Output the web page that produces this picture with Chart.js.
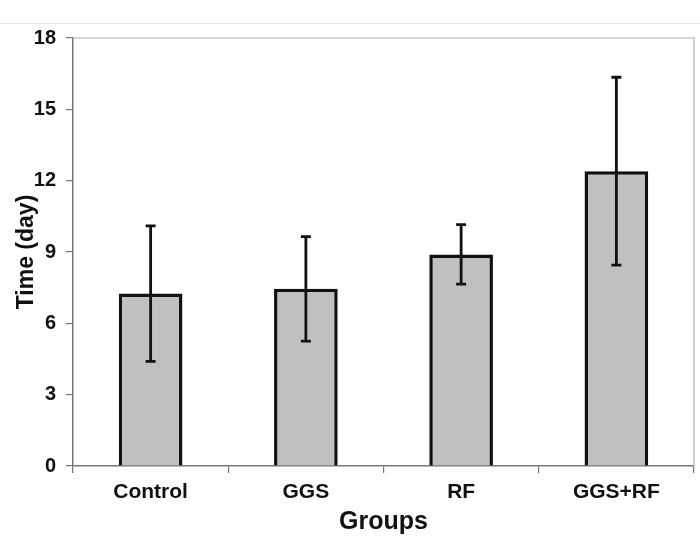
<!DOCTYPE html>
<html>
<head>
<meta charset="utf-8">
<script src="https://cdn.jsdelivr.net/npm/chart.js@4.4.1/dist/chart.umd.min.js"></script>
<style>
    html, body { margin: 0; padding: 0; background: #fff; }
    #wrap { width: 700px; height: 552px; position: relative; }
</style>
</head>
<body>
<div id="wrap"><canvas id="timeChart"></canvas></div>
<script>
const groups = ["Control", "GGS", "RF", "GGS+RF"];
const meanDays = [7.25, 7.45, 8.9, 12.4];
const sdDays = [2.85, 2.2, 1.25, 3.95];
const yTicks = [0, 3, 6, 9, 12, 15, 18];

// light frame on top/right of the plot area, plus the faint page rule above
const frame = {
    id: "frame",
    beforeDatasetsDraw(chart) {
        const { ctx, chartArea: a } = chart;
        ctx.save();
        ctx.strokeStyle = "#e4e4e4";
        ctx.lineWidth = 1;
        ctx.beginPath();
        ctx.moveTo(0, 23.5);
        ctx.lineTo(chart.width, 23.5);
        ctx.stroke();
        ctx.strokeStyle = "#b0b0b0";
        ctx.lineWidth = 1.2;
        ctx.beginPath();
        ctx.moveTo(a.left, a.top);
        ctx.lineTo(a.right, a.top);
        ctx.lineTo(a.right, a.bottom);
        ctx.stroke();
        ctx.restore();
    }
};

const errorBars = {
    id: "errorBars",
    afterDatasetsDraw(chart) {
        const { ctx } = chart;
        const y = chart.scales.y;
        const meta = chart.getDatasetMeta(0);
        ctx.save();
        ctx.strokeStyle = "#111";
        ctx.lineWidth = 2.8;
        meta.data.forEach(function (bar, i) {
            const top = y.getPixelForValue(meanDays[i] + sdDays[i]);
            const bot = y.getPixelForValue(meanDays[i] - sdDays[i]);
            ctx.beginPath();
            ctx.moveTo(bar.x, top);
            ctx.lineTo(bar.x, bot);
            ctx.moveTo(bar.x - 5, top);
            ctx.lineTo(bar.x + 5, top);
            ctx.moveTo(bar.x - 5, bot);
            ctx.lineTo(bar.x + 5, bot);
            ctx.stroke();
        });
        ctx.restore();
    }
};

new Chart(document.getElementById("timeChart"), {
    type: "bar",
    data: {
        labels: groups,
        datasets: [{
            data: meanDays,
            backgroundColor: "#c0c0c0",
            borderColor: "#111",
            borderWidth: 3.5,
            categoryPercentage: 0.41,
            barPercentage: 1.0
        }]
    },
    options: {
        responsive: true,
        maintainAspectRatio: false,
        animation: false,
        layout: { padding: { left: 9, right: 6, top: 38, bottom: 11 } },
        plugins: {
            legend: { display: false },
            tooltip: { enabled: false }
        },
        scales: {
            x: {
                offset: true,
                grid: { offset: true, drawOnChartArea: false, tickLength: 7, color: "#777", lineWidth: 1.2 },
                border: { color: "#777", width: 1.5 },
                ticks: { color: "#111", font: { family: "Liberation Sans", size: 21, weight: "bold" }, padding: 7 },
                title: { display: true, text: "Groups", color: "#111", font: { family: "Liberation Sans", size: 25, weight: "bold" } },
                afterFit(scale) { scale.height = 75; }
            },
            y: {
                min: 0,
                max: 18,
                afterBuildTicks(scale) { scale.ticks = yTicks.map(v => ({ value: v })); },
                grid: { drawOnChartArea: false, tickLength: 7, color: "#777", lineWidth: 1.2 },
                border: { color: "#777", width: 1.5 },
                ticks: { color: "#111", font: { family: "Liberation Sans", size: 20, weight: "bold" }, padding: 10 },
                title: { display: true, text: "Time (day)", color: "#111", font: { family: "Liberation Sans", size: 23, weight: "bold" } },
                afterFit(scale) { scale.width = 64; }
            }
        }
    },
    plugins: [frame, errorBars]
});
</script>
</body>
</html>
